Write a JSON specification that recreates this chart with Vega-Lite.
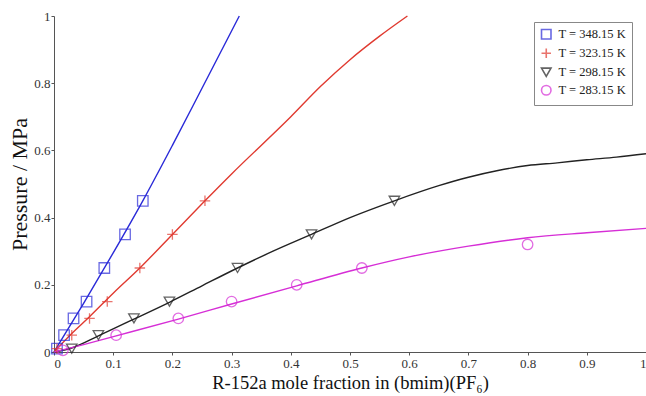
{
  "$schema": "https://vega.github.io/schema/vega-lite/v6.json",
  "width": 592,
  "height": 336,
  "autosize": "none",
  "padding": {"left": 54, "top": 16, "right": 0, "bottom": 44},
  "background": "white",
  "config": {
    "view": {"stroke": null},
    "font": "Liberation Serif",
    "axis": {
      "grid": false,
      "domainColor": "#555",
      "tickColor": "#555",
      "titleFont": "Liberation Serif",
      "titleFontWeight": "normal",
      "titleColor": "#111"
    }
  },
  "datasets": {
    "curves": [
      {"T": "T = 348.15 K", "x": 0.0, "p": 0.0},
      {"T": "T = 348.15 K", "x": 0.05, "p": 0.145},
      {"T": "T = 348.15 K", "x": 0.1, "p": 0.295},
      {"T": "T = 348.15 K", "x": 0.15, "p": 0.45},
      {"T": "T = 348.15 K", "x": 0.2, "p": 0.615},
      {"T": "T = 348.15 K", "x": 0.25, "p": 0.785},
      {"T": "T = 348.15 K", "x": 0.313, "p": 1.0},
      {"T": "T = 323.15 K", "x": 0.0, "p": 0.0},
      {"T": "T = 323.15 K", "x": 0.03, "p": 0.055},
      {"T": "T = 323.15 K", "x": 0.06, "p": 0.105},
      {"T": "T = 323.15 K", "x": 0.1, "p": 0.175},
      {"T": "T = 323.15 K", "x": 0.145, "p": 0.25},
      {"T": "T = 323.15 K", "x": 0.2, "p": 0.35},
      {"T": "T = 323.15 K", "x": 0.255, "p": 0.45},
      {"T": "T = 323.15 K", "x": 0.3, "p": 0.53},
      {"T": "T = 323.15 K", "x": 0.4, "p": 0.7},
      {"T": "T = 323.15 K", "x": 0.45, "p": 0.79},
      {"T": "T = 323.15 K", "x": 0.5, "p": 0.87},
      {"T": "T = 323.15 K", "x": 0.55, "p": 0.94},
      {"T": "T = 323.15 K", "x": 0.597, "p": 1.0},
      {"T": "T = 298.15 K", "x": 0.0, "p": 0.0},
      {"T": "T = 298.15 K", "x": 0.03, "p": 0.012},
      {"T": "T = 298.15 K", "x": 0.075, "p": 0.048},
      {"T": "T = 298.15 K", "x": 0.135, "p": 0.098},
      {"T": "T = 298.15 K", "x": 0.195, "p": 0.148},
      {"T": "T = 298.15 K", "x": 0.25, "p": 0.197},
      {"T": "T = 298.15 K", "x": 0.31, "p": 0.25},
      {"T": "T = 298.15 K", "x": 0.37, "p": 0.3},
      {"T": "T = 298.15 K", "x": 0.435, "p": 0.35},
      {"T": "T = 298.15 K", "x": 0.5, "p": 0.4},
      {"T": "T = 298.15 K", "x": 0.575, "p": 0.45},
      {"T": "T = 298.15 K", "x": 0.65, "p": 0.495},
      {"T": "T = 298.15 K", "x": 0.7, "p": 0.52},
      {"T": "T = 298.15 K", "x": 0.75, "p": 0.54},
      {"T": "T = 298.15 K", "x": 0.8, "p": 0.555},
      {"T": "T = 298.15 K", "x": 0.85, "p": 0.563},
      {"T": "T = 298.15 K", "x": 0.9, "p": 0.572},
      {"T": "T = 298.15 K", "x": 0.95, "p": 0.58},
      {"T": "T = 298.15 K", "x": 1.0, "p": 0.59},
      {"T": "T = 283.15 K", "x": 0.0, "p": 0.0},
      {"T": "T = 283.15 K", "x": 0.05, "p": 0.022},
      {"T": "T = 283.15 K", "x": 0.105, "p": 0.048},
      {"T": "T = 283.15 K", "x": 0.21, "p": 0.098},
      {"T": "T = 283.15 K", "x": 0.3, "p": 0.143},
      {"T": "T = 283.15 K", "x": 0.41, "p": 0.197},
      {"T": "T = 283.15 K", "x": 0.52, "p": 0.25},
      {"T": "T = 283.15 K", "x": 0.6, "p": 0.283},
      {"T": "T = 283.15 K", "x": 0.7, "p": 0.315},
      {"T": "T = 283.15 K", "x": 0.8, "p": 0.34},
      {"T": "T = 283.15 K", "x": 0.9, "p": 0.355},
      {"T": "T = 283.15 K", "x": 1.0, "p": 0.368}
    ],
    "points": [
      {"T": "T = 348.15 K", "x": 0.005, "p": 0.01},
      {"T": "T = 348.15 K", "x": 0.017, "p": 0.05},
      {"T": "T = 348.15 K", "x": 0.033, "p": 0.1},
      {"T": "T = 348.15 K", "x": 0.055, "p": 0.15},
      {"T": "T = 348.15 K", "x": 0.085, "p": 0.25},
      {"T": "T = 348.15 K", "x": 0.12, "p": 0.35},
      {"T": "T = 348.15 K", "x": 0.15, "p": 0.45},
      {"T": "T = 323.15 K", "x": 0.005, "p": 0.01},
      {"T": "T = 323.15 K", "x": 0.03, "p": 0.05},
      {"T": "T = 323.15 K", "x": 0.06, "p": 0.1},
      {"T": "T = 323.15 K", "x": 0.09, "p": 0.15},
      {"T": "T = 323.15 K", "x": 0.145, "p": 0.25},
      {"T": "T = 323.15 K", "x": 0.2, "p": 0.35},
      {"T": "T = 323.15 K", "x": 0.255, "p": 0.45},
      {"T": "T = 298.15 K", "x": 0.03, "p": 0.01},
      {"T": "T = 298.15 K", "x": 0.075, "p": 0.05},
      {"T": "T = 298.15 K", "x": 0.135, "p": 0.1},
      {"T": "T = 298.15 K", "x": 0.195, "p": 0.15},
      {"T": "T = 298.15 K", "x": 0.31, "p": 0.25},
      {"T": "T = 298.15 K", "x": 0.435, "p": 0.35},
      {"T": "T = 298.15 K", "x": 0.575, "p": 0.45},
      {"T": "T = 283.15 K", "x": 0.015, "p": 0.005},
      {"T": "T = 283.15 K", "x": 0.105, "p": 0.05},
      {"T": "T = 283.15 K", "x": 0.21, "p": 0.1},
      {"T": "T = 283.15 K", "x": 0.3, "p": 0.15},
      {"T": "T = 283.15 K", "x": 0.41, "p": 0.2},
      {"T": "T = 283.15 K", "x": 0.52, "p": 0.25},
      {"T": "T = 283.15 K", "x": 0.8, "p": 0.32}
    ]
  },
  "encoding": {
    "x": {
      "field": "x", "type": "quantitative",
      "scale": {"domain": [0, 1], "nice": false},
      "axis": {"values": [0, 0.1, 0.2, 0.3, 0.4, 0.5, 0.6, 0.7, 0.8, 0.9, 1], "format": ".1~f", "title": "R-152a mole fraction in (bmim)(PF₆)", "titlePadding": 3, "titleFontSize": 18.5, "tickSize": 3, "labelPadding": 2, "labelFont": "Liberation Serif", "labelFontSize": 13, "labelColor": "#333"}
    },
    "y": {
      "field": "p", "type": "quantitative",
      "scale": {"domain": [0, 1], "nice": false},
      "axis": {"values": [0, 0.2, 0.4, 0.6, 0.8, 1], "format": ".1~f", "title": "Pressure / MPa", "titlePadding": 2, "titleFontSize": 22, "tickSize": 3, "labelPadding": 1, "labelFont": "Liberation Serif", "labelFontSize": 13, "labelColor": "#333"}
    }
  },
  "layer": [
    {
      "data": {"name": "curves"},
      "transform": [{"filter": "datum.T == 'T = 348.15 K'"}],
      "mark": {"type": "line", "interpolate": "monotone", "strokeWidth": 1.4, "color": "#2a2ad8"},
      "encoding": {}
    },
    {
      "data": {"name": "curves"},
      "transform": [{"filter": "datum.T == 'T = 323.15 K'"}],
      "mark": {"type": "line", "interpolate": "monotone", "strokeWidth": 1.4, "color": "#e03a30"},
      "encoding": {}
    },
    {
      "data": {"name": "curves"},
      "transform": [{"filter": "datum.T == 'T = 298.15 K'"}],
      "mark": {"type": "line", "interpolate": "monotone", "strokeWidth": 1.4, "color": "#222222"},
      "encoding": {}
    },
    {
      "data": {"name": "curves"},
      "transform": [{"filter": "datum.T == 'T = 283.15 K'"}],
      "mark": {"type": "line", "interpolate": "monotone", "strokeWidth": 1.4, "color": "#d62ed6"},
      "encoding": {}
    },
    {
      "data": {"name": "points"},
      "mark": {"type": "point", "filled": false, "size": 110, "strokeWidth": 1.3},
      "encoding": {
        "shape": {
          "field": "T", "type": "nominal",
          "scale": {"domain": ["T = 348.15 K", "T = 323.15 K", "T = 298.15 K", "T = 283.15 K"], "range": ["square", "M-1,0L1,0M0,-1L0,1", "triangle-down", "circle"]},
          "legend": {
            "title": null, "orient": "none", "legendX": 480, "legendY": 6,
            "strokeColor": "#888", "fillColor": "white", "padding": 6,
            "labelFont": "Liberation Serif", "labelFontSize": 12.5, "labelColor": "#222",
            "symbolSize": 90, "symbolStrokeWidth": 1.6, "rowPadding": 2, "labelOffset": 6
          }
        },
        "color": {
          "field": "T", "type": "nominal",
          "scale": {"domain": ["T = 348.15 K", "T = 323.15 K", "T = 298.15 K", "T = 283.15 K"], "range": ["#2a2ad8", "#e03a30", "#222222", "#d62ed6"]},
          "legend": {
            "title": null, "orient": "none", "legendX": 480, "legendY": 6,
            "strokeColor": "#888", "fillColor": "white", "padding": 6,
            "labelFont": "Liberation Serif", "labelFontSize": 12.5, "labelColor": "#222",
            "symbolSize": 90, "symbolStrokeWidth": 1.6, "rowPadding": 2, "labelOffset": 6
          }
        }
      }
    }
  ]
}
